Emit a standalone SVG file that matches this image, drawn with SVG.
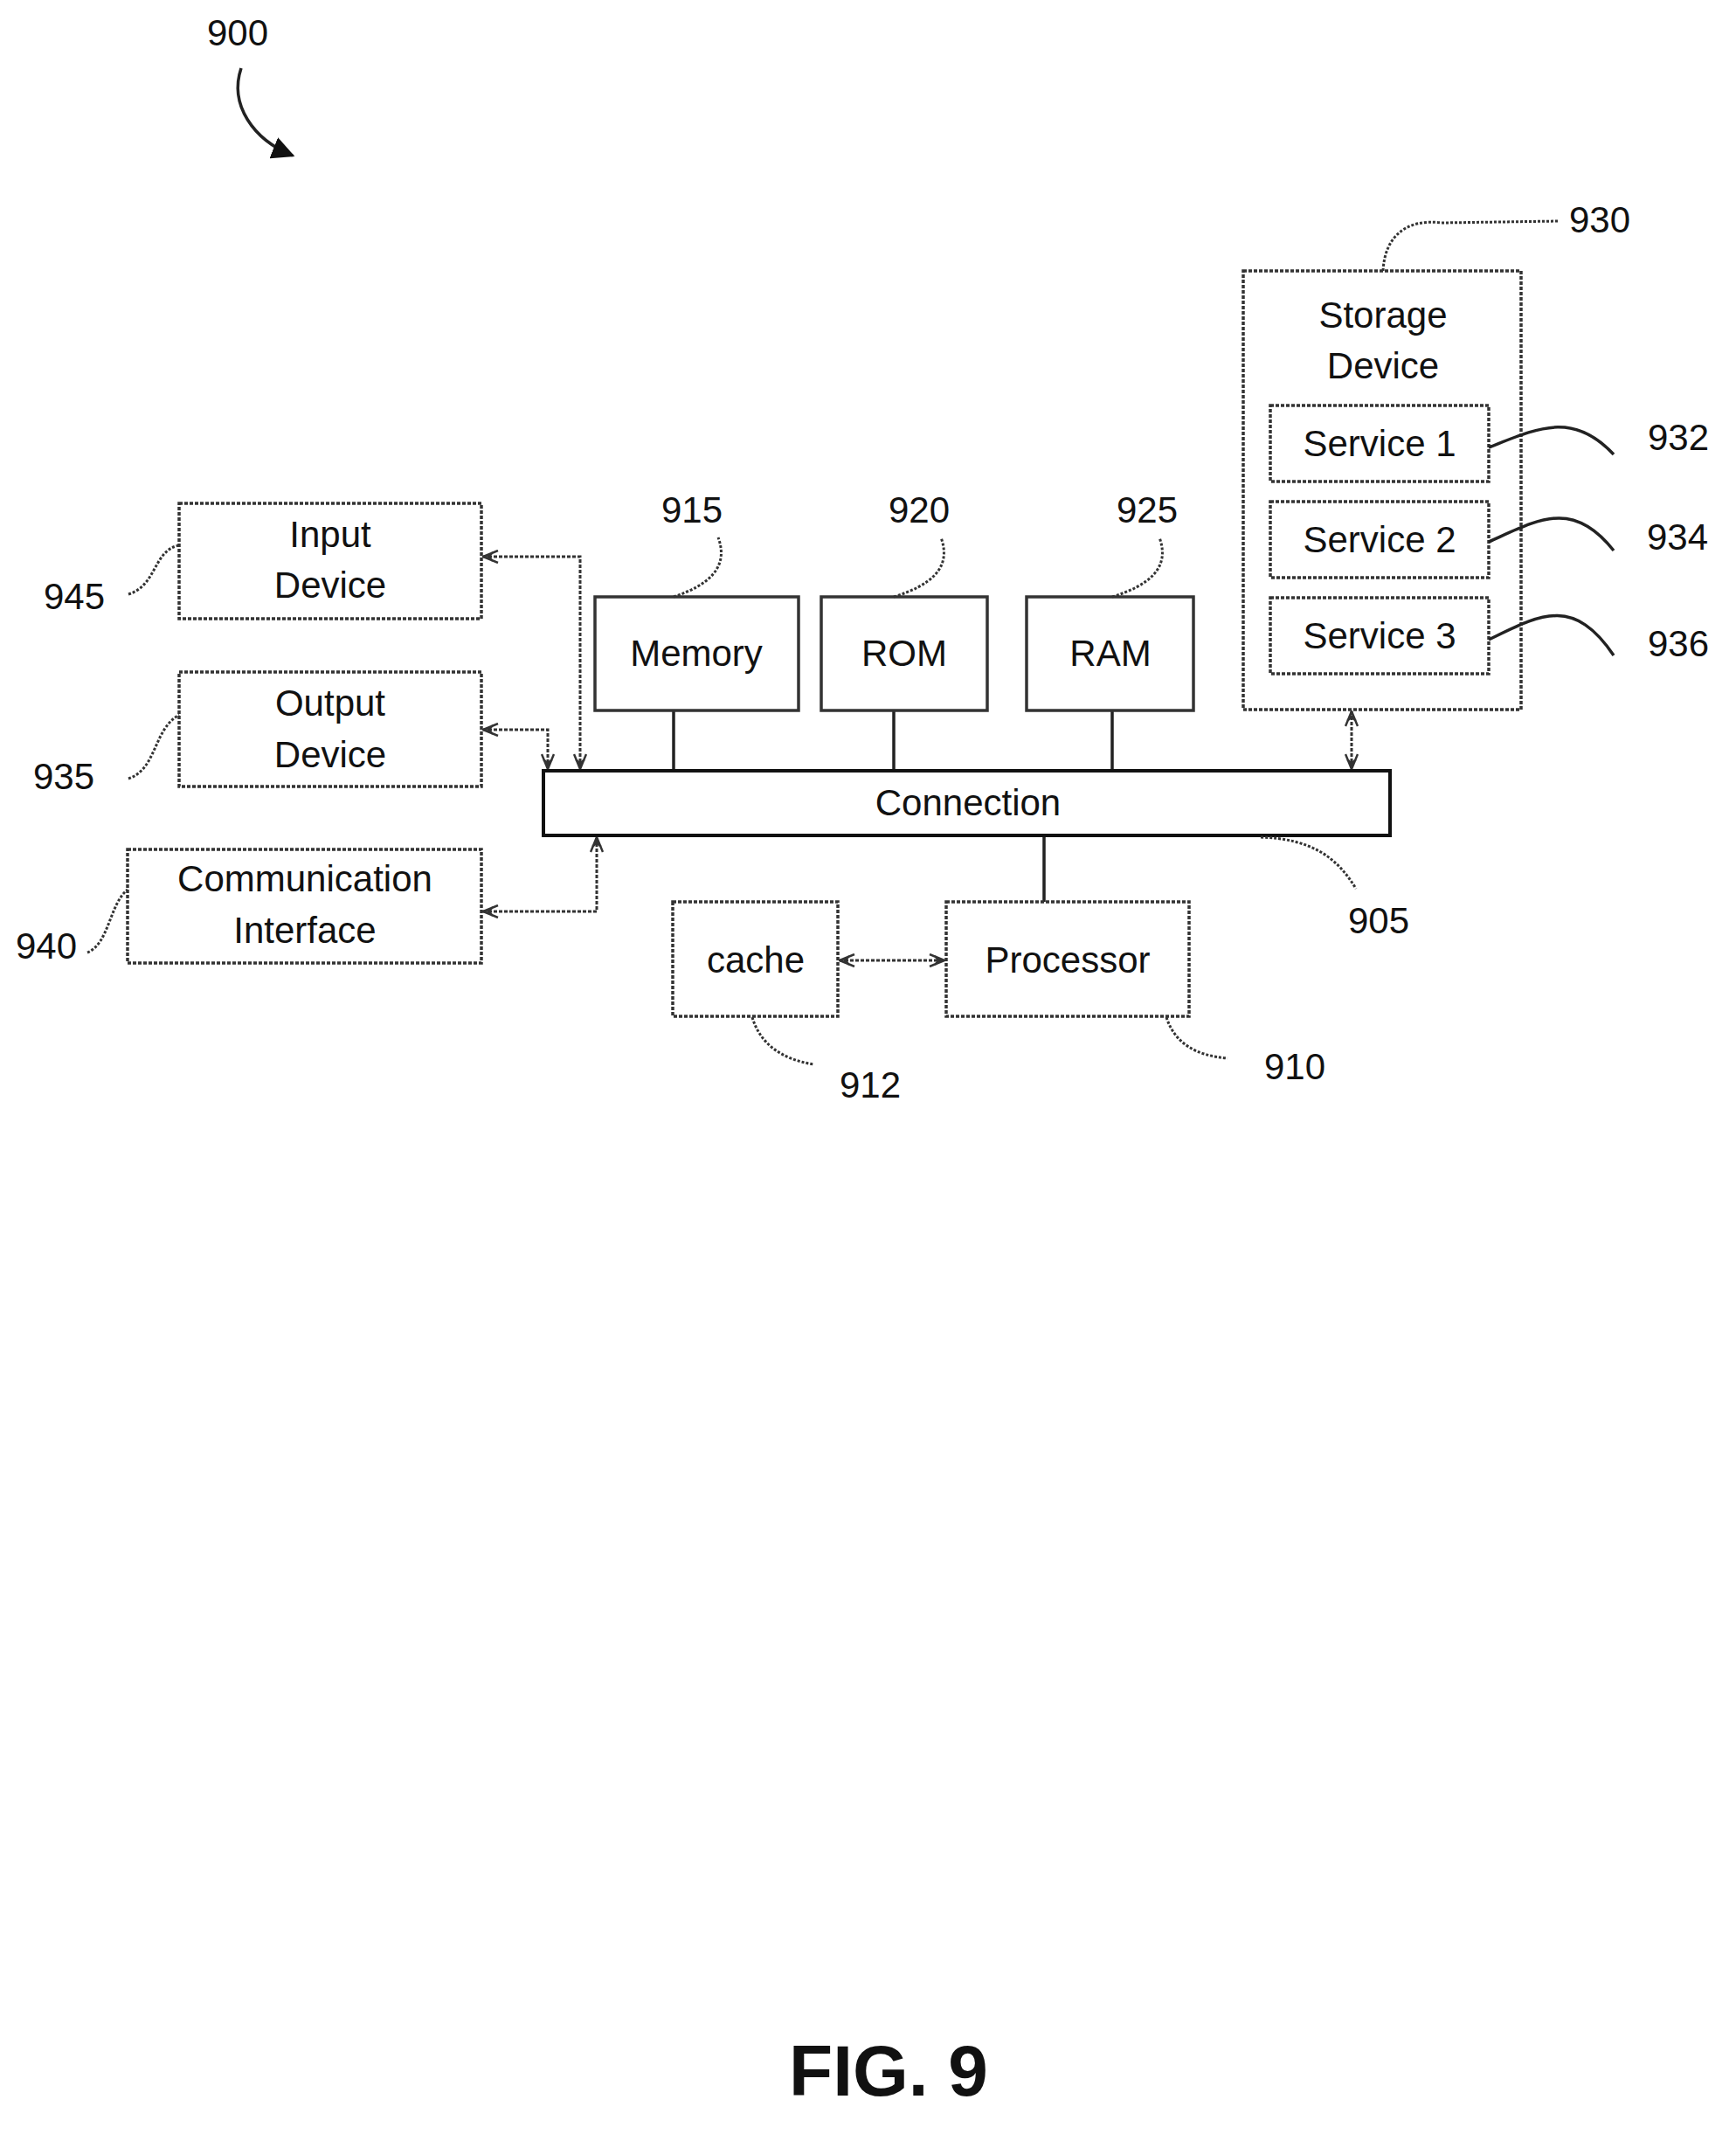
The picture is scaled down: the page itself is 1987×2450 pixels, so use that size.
<svg xmlns="http://www.w3.org/2000/svg" width="1987" height="2450" viewBox="0 0 1987 2450">
<style>
text{font-family:"Liberation Sans Narrow","Liberation Sans",Arial,sans-serif;font-size:42px;fill:#111;text-anchor:middle}
.box{fill:#fff;stroke:#333;stroke-width:3.5}
.dbox{fill:#fff;stroke:#333;stroke-width:3.5;stroke-dasharray:4 2}
.line{fill:none;stroke:#222;stroke-width:3.5}
.arr{fill:none;stroke:#333;stroke-width:3;stroke-dasharray:4 2;marker-start:url(#ah);marker-end:url(#ah)}
.lead{fill:none;stroke:#333;stroke-width:3;stroke-dasharray:3 2}
.leads{fill:none;stroke:#222;stroke-width:3.5}
</style>
<defs>
<marker id="ah" viewBox="0 0 20 16" refX="19" refY="8" markerWidth="20" markerHeight="16" markerUnits="userSpaceOnUse" orient="auto-start-reverse">
<path d="M2,1 L19,8 L2,15 M8,3 L13,8 L8,13" fill="none" stroke="#333" stroke-width="2.5"/>
</marker>
<marker id="bh" viewBox="0 0 20 20" refX="18" refY="10" markerWidth="26" markerHeight="26" markerUnits="userSpaceOnUse" orient="auto">
<path d="M0,0 L20,10 L0,20 Z" fill="#111"/>
</marker>
</defs>
<g id="label-900"><text x="272" y="52">900</text>
<path d="M276,78 C262,120 290,160 335,178" class="leads" marker-end="url(#bh)"/></g>
<g id="connectors">
<path class="arr" d="M553,637 L664,637 L664,880"/>
<path class="arr" d="M553,835 L627,835 L627,880"/>
<path class="arr" d="M553,1043 L683,1043 L683,958"/>
<path class="arr" d="M1547,814 L1547,880"/>
<path class="arr" d="M961,1099 L1081,1099"/>
<path class="line" d="M771,813 V882 M1023,813 V882 M1273,813 V882 M1195,956 V1032"/>
</g>
<g id="node-930"><rect class="dbox" x="1423" y="310" width="318" height="502"/>
<text x="1583" y="375">Storage</text><text x="1583" y="433">Device</text>
<path class="lead" d="M1583,310 C1585,270 1610,250 1650,255 L1785,253"/><text x="1831" y="266">930</text></g>
<g id="node-932"><rect class="dbox" x="1454" y="464" width="250" height="87"/><text x="1579" y="522">Service 1</text>
<path class="leads" d="M1704,512 C1760,490 1800,470 1847,520"/><text x="1921" y="515">932</text></g>
<g id="node-934"><rect class="dbox" x="1454" y="574" width="250" height="87"/><text x="1579" y="632">Service 2</text>
<path class="leads" d="M1704,620 C1760,595 1800,570 1847,630"/><text x="1920" y="629">934</text></g>
<g id="node-936"><rect class="dbox" x="1454" y="684" width="250" height="87"/><text x="1579" y="742">Service 3</text>
<path class="leads" d="M1704,732 C1760,705 1800,680 1847,750"/><text x="1921" y="751">936</text></g>
<g id="node-915"><rect class="box" x="681" y="683" width="233" height="130"/><text x="797" y="762">Memory</text>
<path class="lead" d="M771,683 C810,670 835,650 822,615"/><text x="792" y="598">915</text></g>
<g id="node-920"><rect class="box" x="940" y="683" width="190" height="130"/><text x="1035" y="762">ROM</text>
<path class="lead" d="M1023,683 C1065,670 1090,650 1077,615"/><text x="1052" y="598">920</text></g>
<g id="node-925"><rect class="box" x="1175" y="683" width="191" height="130"/><text x="1271" y="762">RAM</text>
<path class="lead" d="M1273,683 C1315,670 1340,650 1327,615"/><text x="1313" y="598">925</text></g>
<g id="node-905"><rect x="622" y="882" width="969" height="74" fill="#fff" stroke="#111" stroke-width="4"/><text x="1108" y="933">Connection</text>
<path class="lead" d="M1443,958 C1500,960 1530,980 1552,1017"/><text x="1578" y="1068">905</text></g>
<g id="node-910"><rect class="dbox" x="1083" y="1032" width="278" height="131"/><text x="1222" y="1113">Processor</text>
<path class="lead" d="M1335,1164 C1345,1195 1370,1208 1405,1211"/><text x="1482" y="1235">910</text></g>
<g id="node-912"><rect class="dbox" x="770" y="1032" width="189" height="131"/><text x="865" y="1113">cache</text>
<path class="lead" d="M861,1164 C870,1195 895,1212 931,1218"/><text x="996" y="1256">912</text></g>
<g id="node-945"><rect class="dbox" x="205" y="576" width="346" height="132"/><text x="378" y="626">Input</text><text x="378" y="684">Device</text>
<path class="lead" d="M147,680 C180,670 175,630 205,624"/><text x="85" y="697">945</text></g>
<g id="node-935"><rect class="dbox" x="205" y="769" width="346" height="131"/><text x="378" y="819">Output</text><text x="378" y="878">Device</text>
<path class="lead" d="M147,891 C180,880 175,835 205,818"/><text x="73" y="903">935</text></g>
<g id="node-940"><rect class="dbox" x="146" y="972" width="405" height="130"/><text x="349" y="1020">Communication</text><text x="349" y="1079">Interface</text>
<path class="lead" d="M100,1090 C125,1080 125,1035 146,1018"/><text x="53" y="1097">940</text></g>
<text x="1017" y="2398" style="font-family:'Liberation Sans',Arial,sans-serif;font-weight:bold;font-size:82px">FIG. 9</text>
</svg>
